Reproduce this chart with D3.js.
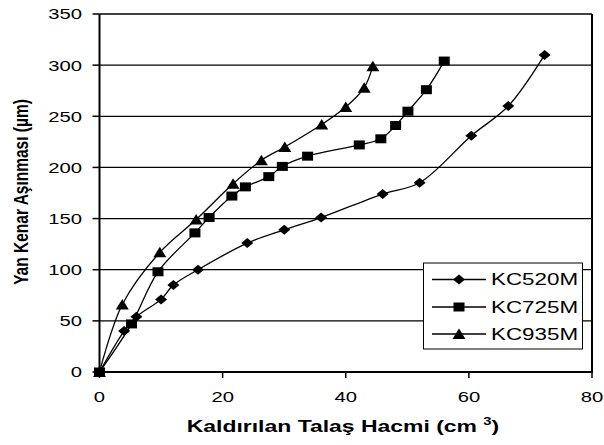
<!DOCTYPE html>
<html>
<head>
<meta charset="utf-8">
<script src="https://cdn.jsdelivr.net/npm/d3@7"></script>
<style>
  html, body { margin: 0; padding: 0; background: #fff; }
  svg { display: block; }
  text { font-family: "Liberation Sans", Arial, sans-serif; fill: #000; }
</style>
</head>
<body>
<svg id="chart" width="604" height="445"></svg>
<script>
// ---- data ----
const seriesNames = ["KC520M", "KC725M", "KC935M"];
const kc520mX = [0, 4, 6, 10, 12, 16, 24, 30, 36, 46, 52, 60.4, 66.4, 72.3];
const kc520mY = [0, 40, 54, 71, 85, 100, 126, 139, 151, 174, 185, 231, 260, 310];
const kc725mX = [0, 5.2, 9.5, 15.5, 17.8, 21.5, 23.7, 27.5, 29.7, 33.8, 42.2, 45.7, 48.1, 50.1, 53.1, 56];
const kc725mY = [0, 47, 98, 136, 151, 172, 181, 191, 201, 211, 222, 228, 241, 255, 276, 304];
const kc935mX = [0, 3.7, 9.8, 15.7, 21.7, 26.3, 30.1, 36.1, 40, 43, 44.4];
const kc935mY = [0, 66, 117, 149, 184, 207, 220, 242, 259, 278, 299];
const xTicks = [0, 20, 40, 60, 80];
const yTicks = [0, 50, 100, 150, 200, 250, 300, 350];
const xTitle = "Kaldırılan Talaş Hacmi (cm";
const xTitleSup = "3";
const yTitle = "Yan Kenar Aşınması (µm)";

const series = [
  { name: seriesNames[0], xs: kc520mX, ys: kc520mY, marker: "diamond" },
  { name: seriesNames[1], xs: kc725mX, ys: kc725mY, marker: "square" },
  { name: seriesNames[2], xs: kc935mX, ys: kc935mY, marker: "triangle" }
];

// ---- layout ----
const L = 99.5, R = 592, T = 14, B = 372;
const SX = 1.35; // horizontal text stretch
const svg = d3.select("#chart");
const x = d3.scaleLinear().domain([0, 80]).range([L, R]);
const y = d3.scaleLinear().domain([0, 350]).range([B, T]);

// gridlines
svg.append("g").selectAll("line").data(yTicks.filter(d => d > 0)).join("line")
  .attr("x1", L).attr("x2", R).attr("y1", d => y(d)).attr("y2", d => y(d))
  .attr("stroke", "#000").attr("stroke-width", 1.3);

// right border
svg.append("line").attr("x1", R).attr("x2", R).attr("y1", T).attr("y2", B)
  .attr("stroke", "#000").attr("stroke-width", 2);

// y axis
svg.append("line").attr("x1", L).attr("x2", L).attr("y1", T).attr("y2", B + 1)
  .attr("stroke", "#000").attr("stroke-width", 2);
svg.append("g").selectAll("line").data(yTicks).join("line")
  .attr("x1", L - 7).attr("x2", L).attr("y1", d => y(d)).attr("y2", d => y(d))
  .attr("stroke", "#000").attr("stroke-width", 1.5);
svg.append("g").selectAll("text").data(yTicks).join("text")
  .attr("transform", d => `translate(82,${y(d) + 5.4}) scale(${SX},1)`)
  .attr("text-anchor", "end").attr("font-size", 15).text(d => d);

// x axis
svg.append("line").attr("x1", L - 1).attr("x2", R + 1).attr("y1", B).attr("y2", B)
  .attr("stroke", "#000").attr("stroke-width", 2);
svg.append("g").selectAll("line").data(xTicks).join("line")
  .attr("x1", d => x(d)).attr("x2", d => x(d)).attr("y1", B).attr("y2", B + 6)
  .attr("stroke", "#000").attr("stroke-width", 1.5);
svg.append("g").selectAll("text").data(xTicks).join("text")
  .attr("transform", d => `translate(${x(d)},402) scale(${SX},1)`)
  .attr("text-anchor", "middle").attr("font-size", 15).text(d => d);

// axis titles
const xt = svg.append("text")
  .attr("transform", `translate(343,432) scale(${SX},1)`)
  .attr("text-anchor", "middle").attr("font-size", 17).attr("font-weight", "bold");
xt.append("tspan").text(xTitle + " ");
xt.append("tspan").attr("font-size", 11).attr("dy", -7).text(xTitleSup);
xt.append("tspan").attr("dy", 7).text(")");

svg.append("text")
  .attr("transform", `translate(28,192) rotate(-90) scale(1,${SX})`)
  .attr("text-anchor", "middle").attr("font-size", 15.5).attr("font-weight", "bold")
  .text(yTitle);

// markers
function markerPath(type) {
  if (type === "diamond") return "M0,-5L6,0L0,5L-6,0Z";
  if (type === "square") return "M-5.5,-4.5L5.5,-4.5L5.5,4.5L-5.5,4.5Z";
  return "M0,-5.5L6.5,5L-6.5,5Z";
}

const line = d3.line().x(d => x(d[0])).y(d => y(d[1])).curve(d3.curveCatmullRom.alpha(0.5));

series.forEach(s => {
  const pts = s.xs.map((v, i) => [v, s.ys[i]]);
  svg.append("path").datum(pts).attr("d", line)
    .attr("fill", "none").attr("stroke", "#000").attr("stroke-width", 1.3);
  svg.append("g").selectAll("path").data(pts).join("path")
    .attr("transform", d => `translate(${x(d[0])},${y(d[1])})`)
    .attr("d", markerPath(s.marker)).attr("fill", "#000");
});

// legend
const lg = svg.append("g");
lg.append("rect").attr("x", 423.5).attr("y", 263).attr("width", 159).attr("height", 86)
  .attr("fill", "#fff").attr("stroke", "#000").attr("stroke-width", 1);
const legY = [279.5, 307, 334];
series.forEach((s, i) => {
  const g = lg.append("g").attr("transform", `translate(0,${legY[i]})`);
  g.append("line").attr("x1", 432).attr("x2", 486).attr("y1", 0).attr("y2", 0)
    .attr("stroke", "#000").attr("stroke-width", 1.3);
  g.append("path").attr("transform", "translate(459,0)").attr("d", markerPath(s.marker)).attr("fill", "#000");
  g.append("text").attr("transform", `translate(491,5.8) scale(1.4,1)`)
    .attr("font-size", 16).text(s.name);
});
</script>
</body>
</html>
